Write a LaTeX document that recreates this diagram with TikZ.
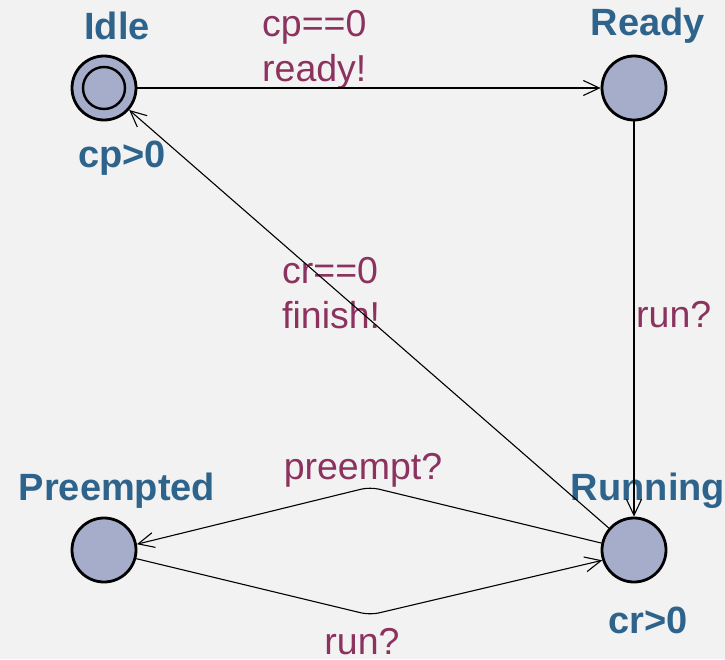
\documentclass[tikz,border=0pt]{standalone}
\usepackage{fontspec}
\setmainfont{Liberation Sans}
\usetikzlibrary{arrows.meta}
\definecolor{bg}{RGB}{242,242,242}
\definecolor{statefill}{RGB}{165,173,203}
\definecolor{namecol}{RGB}{46,100,140}
\definecolor{labcol}{RGB}{140,50,95}
\begin{document}
\begin{tikzpicture}[x=1pt,y=-1pt,
  state/.style={circle,draw=black,line width=2.8pt,fill=statefill,minimum size=64pt,inner sep=0pt},
  sname/.style={text=namecol,font=\fontsize{38}{45}\selectfont\bfseries,inner sep=0pt},
  elabel/.style={text=labcol,font=\fontsize{37.5}{45}\selectfont,inner sep=0pt,align=left},
  edge/.style={line width=1.1pt,-{Straight Barb[length=16pt,width=15pt,line width=1.1pt]}}]
\fill[bg] (0,0) rectangle (725,659);
\useasboundingbox (0,0) rectangle (725,659);
\node[state] (idle) at (104,88) {};
\draw[line width=2.4pt] (idle.center) circle (21pt);
\node[state] (ready) at (634,88) {};
\node[state] (running) at (634,550) {};
\node[state] (preempted) at (104,550) {};
\node[sname] (nidle) at (117,26) {Idle};
\node[sname] (iidle) at (122,158) {cp>0};
\node[sname] (nready) at (648,26) {Ready};
\node[sname] (npre) at (117,491) {Preempted};
\node[sname] (nrun) at (648,491) {Running};
\node[sname] (irun) at (648,620) {cr>0};
\node[elabel,anchor=west] (l1) at (262,50) {cp==0\\ready!};
\node[elabel,anchor=west] (l2) at (282,293) {cr==0\\finish!};
\node[elabel,anchor=west] (l3) at (636,315) {run?};
\node[elabel] (l4) at (363,470) {preempt?};
\node[elabel] (l5) at (362,642) {run?};
\draw[edge] (idle) -- (ready);
\draw[edge] (ready) -- (running);
\draw[edge] (running) -- (idle);
\coordinate (c1) at (370,487);
\coordinate (c2) at (370,615);
\draw[edge,rounded corners=9pt] (running.168) -- (c1) -- (preempted.10);
\draw[edge,rounded corners=9pt] (preempted.-15) -- (c2) -- (running.198);
\end{tikzpicture}
\end{document}
